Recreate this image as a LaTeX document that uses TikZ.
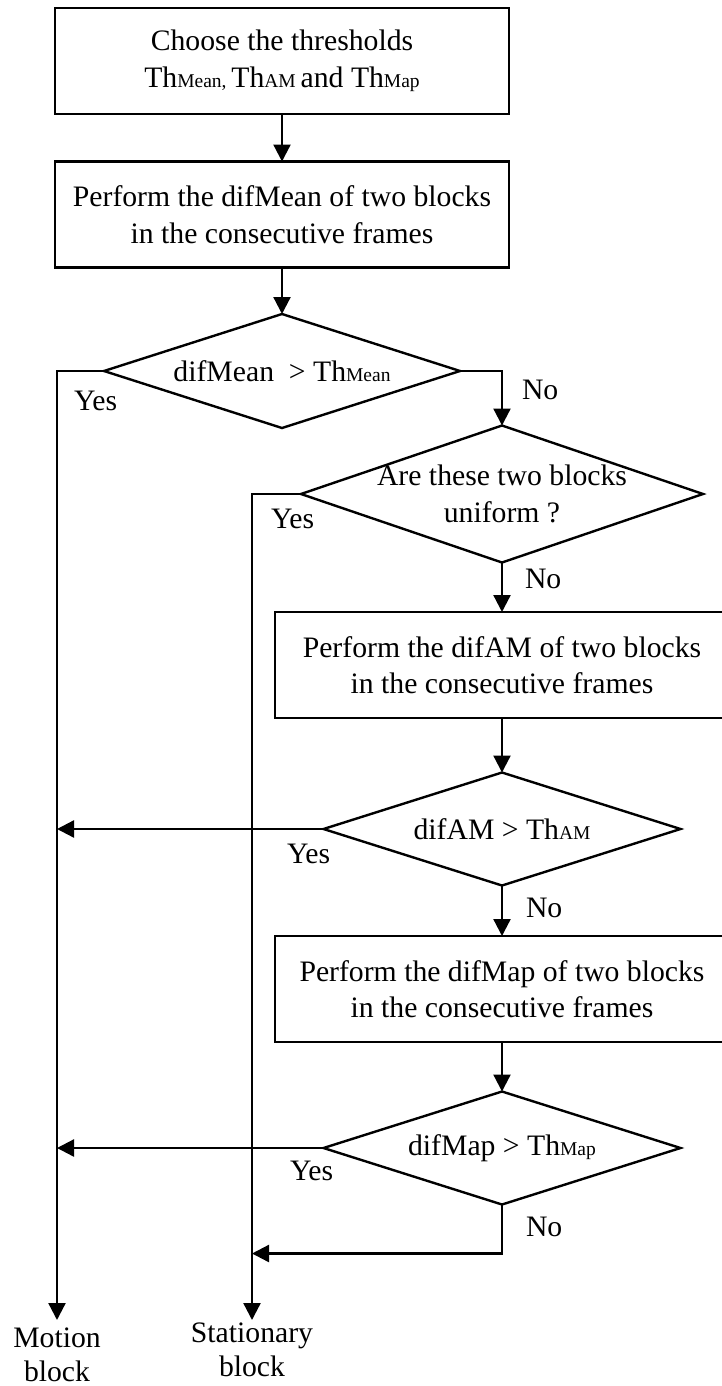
\documentclass[tikz,border=0pt]{standalone}
\usepackage{fontspec}
\setmainfont{Liberation Serif}
\usetikzlibrary{arrows.meta,shapes.geometric}
% smaller text used for the threshold indices
\newcommand{\subtext}[1]{{\fontsize{19.5}{19.5}\selectfont #1}}

\begin{document}
\begin{tikzpicture}[x=1pt,y=-1pt,
  every node/.style={inner sep=0pt, outer sep=0pt},
  procbox/.style={draw, line width=2.4pt, minimum width=454pt, minimum height=106pt,
    align=center, font=\fontsize{29.7}{36.5}\selectfont},
  decision/.style={draw, diamond, line width=2.4pt, inner sep=0pt},
  dtext/.style={align=center, font=\fontsize{29.7}{36.5}\selectfont},
  answer/.style={anchor=base west, font=\fontsize{29.7}{36.5}\selectfont},
  endlabel/.style={anchor=north, align=center, font=\fontsize{29.7}{34}\selectfont},
  flow/.style={line width=2.3pt, -{Triangle[length=17pt,width=17pt]}}]

\useasboundingbox (0,0) rectangle (722,1386);
\fill[white] (0,0) rectangle (722,1386);
\clip (0,0) rectangle (722,1386);

% main column
\node[procbox] (b1) at (282,61) {Choose the thresholds\\Th\subtext{Mean, }Th\subtext{AM\ }and Th\subtext{Map}};
\node[procbox] (b2) at (282,214.5) {Perform the difMean of two blocks\\in the consecutive frames};
\node[decision, minimum width=356pt, minimum height=114pt] (d1) at (282,371) {};
\node[dtext] (d1t) at (d1) {difMean\ \ > Th\subtext{Mean}};

% right column
\node[decision, minimum width=402pt, minimum height=137pt] (d2) at (502,494) {};
\node[dtext] (d2t) at (d2) {Are these two blocks\\uniform ?};
\node[procbox] (b3) at (502,665) {Perform the difAM of two blocks\\in the consecutive frames};
\node[decision, minimum width=357pt, minimum height=113pt] (d3) at (502,829) {};
\node[dtext] (d3t) at (d3) {difAM > Th\subtext{AM}};
\node[procbox] (b4) at (502,989) {Perform the difMap of two blocks\\in the consecutive frames};
\node[decision, minimum width=357pt, minimum height=113pt] (d4) at (502,1148) {};
\node[dtext] (d4t) at (d4) {difMap > Th\subtext{Map}};

% outcomes
\node[endlabel] (motion) at (57,1328) {Motion\\block};
\node[endlabel] (stat) at (252,1323) {Stationary\\block};

% branch labels
\node[answer] (y1) at (74,410) {Yes};
\node[answer] (n1) at (522,399) {No};
\node[answer] (y2) at (271,528) {Yes};
\node[answer] (n2) at (525,588) {No};
\node[answer] (y3) at (287,863) {Yes};
\node[answer] (n3) at (526,917) {No};
\node[answer] (y4) at (290,1180) {Yes};
\node[answer] (n4) at (526,1236) {No};

% connectors
\draw[flow] (b1.south) -- (b2.north);
\draw[flow] (b2.south) -- (d1.north);
\draw[flow, shorten >=8pt] (d1.west) -| (motion.north);
\draw[flow] (d1.east) -| (d2.north);
\draw[flow, shorten >=3pt] (d2.west) -| (stat.north);
\draw[flow] (d2.south) -- (b3.north);
\draw[flow] (b3.south) -- (d3.north);
\draw[flow] (d3.west) -- (d3.west -| motion.north);
\draw[flow] (d3.south) -- (b4.north);
\draw[flow] (b4.south) -- (d4.north);
\draw[flow] (d4.west) -- (d4.west -| motion.north);
\path (d4.south) ++(0,49) coordinate (j4);
\draw[flow] (d4.south) -- (j4) -- (j4 -| stat.north);
\end{tikzpicture}
\end{document}
